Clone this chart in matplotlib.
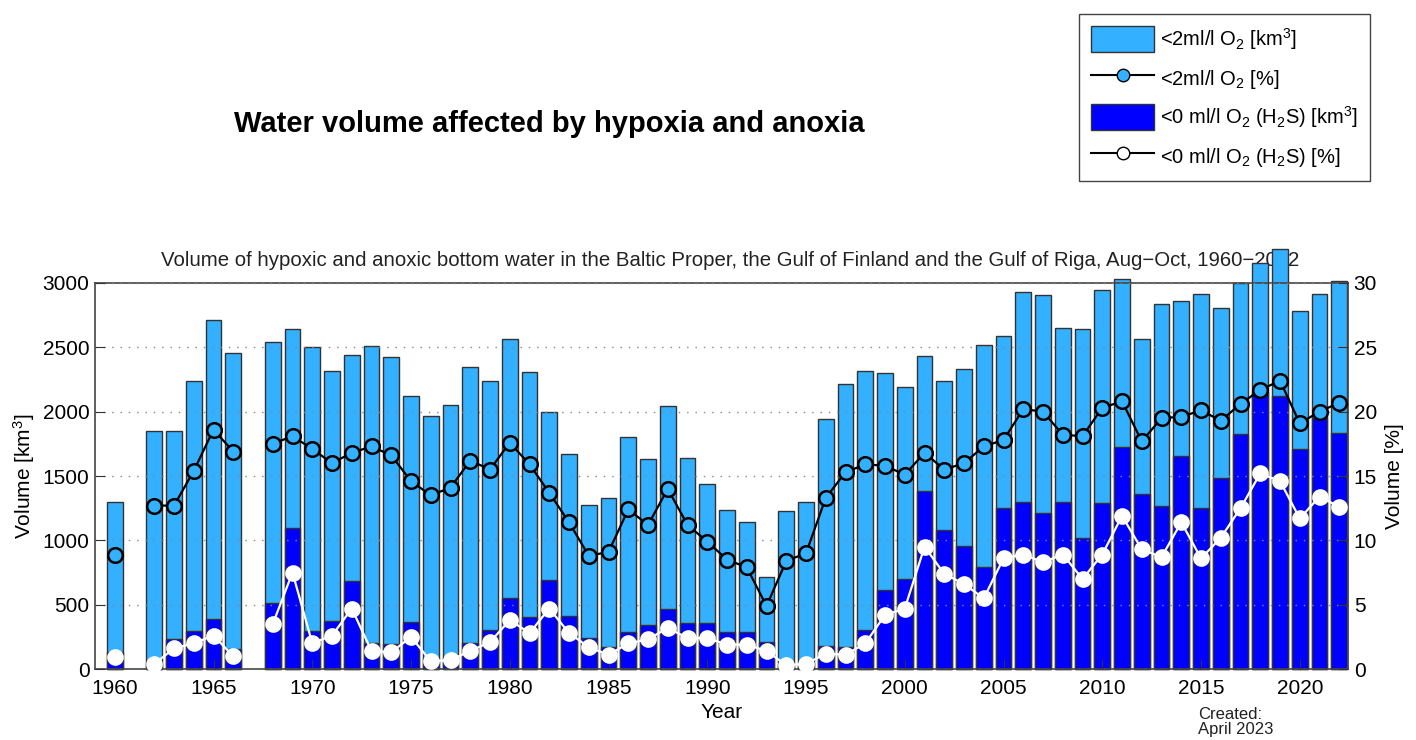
import numpy as np
import matplotlib as mpl
mpl.use('Agg')
import matplotlib.pyplot as plt
from matplotlib.patches import Patch
from matplotlib.lines import Line2D

plt.rcParams['font.family'] = ['Liberation Sans', 'DejaVu Sans']
plt.rcParams['mathtext.fontset'] = 'custom'
plt.rcParams['mathtext.rm'] = 'Liberation Sans'
plt.rcParams['mathtext.it'] = 'Liberation Sans:italic'

nan = np.nan
years = np.arange(1960, 2023)

# volume < 2 ml/l O2 [km3]
hypoxic_km3 = [1295, nan, 1852, 1852, 2238, 2710, 2453, nan, 2539, 2640,
               2500, 2318, 2440, 2510, 2422, 2124, 1966, 2052, 2347, 2236,
               2562, 2311, 2000, 1668, 1275, 1326, 1800, 1632, 2044, 1637,
               1435, 1236, 1145, 712, 1231, 1300, 1943, 2215, 2318, 2298,
               2194, 2433, 2238, 2332, 2518, 2591, 2933, 2907, 2648, 2640,
               2946, 3029, 2565, 2837, 2860, 2915, 2808, 2997, 3158, 3262,
               2785, 2915, 3015]
# volume < 0 ml/l O2 (H2S) [km3]
anoxic_km3 = [130, nan, 45, 233, 295, 386, 153, nan, 510, 1098,
              295, 373, 686, 205, 192, 368, 82, 95, 200, 303,
              549, 407, 692, 412, 238, 168, 290, 342, 466, 355,
              360, 290, 290, 207, 40, 50, 181, 173, 303, 614,
              697, 1383, 1080, 958, 795, 1249, 1300, 1210, 1300, 1021,
              1293, 1728, 1360, 1269, 1655, 1254, 1487, 1826, 2155, 2122,
              1710, 1948, 1837]
# percentages (right axis)
hypoxic_pct = [8.9, nan, 12.7, 12.7, 15.4, 18.6, 16.9, nan, 17.5, 18.1,
               17.1, 16.0, 16.8, 17.3, 16.6, 14.6, 13.5, 14.1, 16.2, 15.5,
               17.6, 15.9, 13.7, 11.4, 8.8, 9.1, 12.4, 11.2, 14.0, 11.2,
               9.9, 8.5, 7.9, 4.9, 8.4, 9.0, 13.3, 15.3, 15.9, 15.8,
               15.1, 16.8, 15.5, 16.0, 17.3, 17.8, 20.2, 20.0, 18.2, 18.1,
               20.3, 20.8, 17.7, 19.5, 19.6, 20.1, 19.3, 20.6, 21.7, 22.4,
               19.1, 20.0, 20.7]
anoxic_pct = [0.9, nan, 0.4, 1.6, 2.0, 2.6, 1.0, nan, 3.5, 7.5,
              2.0, 2.6, 4.7, 1.4, 1.3, 2.5, 0.6, 0.7, 1.4, 2.1,
              3.8, 2.8, 4.7, 2.8, 1.7, 1.1, 2.0, 2.3, 3.2, 2.4,
              2.4, 1.9, 1.9, 1.4, 0.3, 0.4, 1.2, 1.1, 2.0, 4.2,
              4.7, 9.5, 7.4, 6.6, 5.5, 8.6, 8.9, 8.3, 8.9, 7.0,
              8.9, 11.9, 9.3, 8.7, 11.4, 8.6, 10.2, 12.5, 15.2, 14.6,
              11.7, 13.4, 12.6]

light = '#33b0ff'
dark = '#0000ff'
edge = '#333333'
fs = 15

fig = plt.figure(figsize=(14.16, 7.4), dpi=100)
ax = fig.add_axes([0.0671, 0.0959, 0.885, 0.5217])

ax.bar(years, hypoxic_km3, width=0.8, color=light, edgecolor=edge,
       linewidth=1, clip_on=False, zorder=2)
ax.bar(years, anoxic_km3, width=0.8, color=dark, edgecolor=edge,
       linewidth=1, clip_on=False, zorder=2)

ax.set_xlim(1959, 2022.45)
ax.set_ylim(0, 3000)
ax.set_yticks(np.arange(0, 3001, 500))
ax.set_xticks(np.arange(1960, 2021, 5))
ax.yaxis.grid(True, linestyle=(0, (1, 5)), color='#888888', linewidth=1, zorder=3)
ax.set_axisbelow(False)
ax.tick_params(direction='in', length=7, labelsize=fs, color='#333333', pad=4)
ax.tick_params(axis='x', pad=7)
ax.set_ylabel('Volume [km$^3$]', fontsize=fs, labelpad=4)
ax.set_xlabel('Year', fontsize=fs, labelpad=4)
for s in ax.spines.values():
    s.set_color('#444444')
    s.set_linewidth(1.2)
ax.set_title('Volume of hypoxic and anoxic bottom water in the Baltic Proper, '
             'the Gulf of Finland and the Gulf of Riga, Aug\u2212Oct, 1960\u22122022',
             fontsize=14.7, pad=12, x=0.507, zorder=1, color='#222222')

ax2 = ax.twinx()
ax2.set_ylim(0, 30)
ax2.set_yticks(np.arange(0, 31, 5))
ax2.tick_params(direction='in', length=7, labelsize=fs, color='#333333', pad=4)
ax2.set_ylabel('Volume [%]', fontsize=fs, labelpad=6)
for s in ax2.spines.values():
    s.set_visible(False)

ax2.plot(years, hypoxic_pct, '-o', color='black', linewidth=1.6,
         markersize=10.5, markerfacecolor=light, markeredgecolor='black',
         markeredgewidth=1.8, clip_on=False)
ax2.plot(years, anoxic_pct, '-o', color='white', linewidth=1.6,
         markersize=10.5, markerfacecolor='white', markeredgecolor='white',
         markeredgewidth=1.5, clip_on=False)

fig.text(0.388, 0.833, 'Water volume affected by hypoxia and anoxia',
         ha='center', va='center', fontsize=21, fontweight='bold')
fig.text(0.846, 0.045, 'Created:\nApril 2023', ha='left', va='top',
         fontsize=12, color='#222222', linespacing=1.0)

handles = [
    Patch(facecolor=light, edgecolor=edge, linewidth=1),
    Line2D([], [], color='black', marker='o', markerfacecolor=light,
           markeredgecolor='black', markersize=9, linewidth=1.5),
    Patch(facecolor=dark, edgecolor=edge, linewidth=1),
    Line2D([], [], color='black', marker='o', markerfacecolor='white',
           markeredgecolor='black', markersize=9, linewidth=1.5),
]
labels = ['<2ml/l O$_2$ [km$^3$]', '<2ml/l O$_2$ [%]',
          '<0 ml/l O$_2$ (H$_2$S) [km$^3$]', '<0 ml/l O$_2$ (H$_2$S) [%]']
leg = fig.legend(handles, labels, loc='upper right',
                 bbox_to_anchor=(1370 / 1416, 1 - 14 / 740),
                 fontsize=14.5, handlelength=3.1, handleheight=1.6,
                 labelspacing=0.65, handletextpad=0.3, borderpad=0.6,
                 borderaxespad=0, fancybox=False, framealpha=1,
                 edgecolor='#444444')
leg.get_frame().set_linewidth(1.0)

fig.savefig('out.png', dpi=100)
